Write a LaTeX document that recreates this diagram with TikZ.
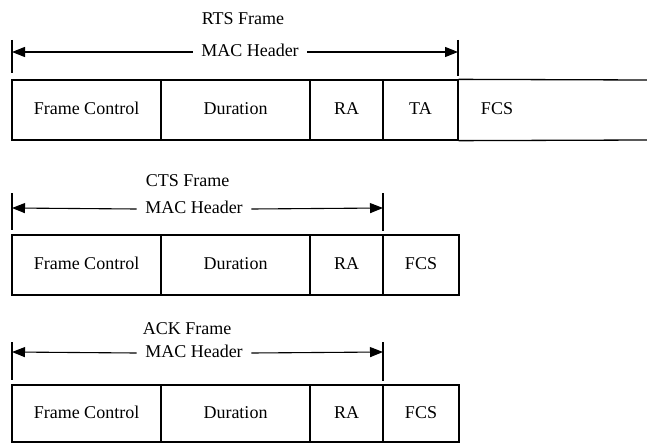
\documentclass[tikz,border=0pt]{standalone}
\usepackage{fontspec}
\setmainfont{Liberation Serif}
\usetikzlibrary{arrows.meta}
\begin{document}
\begin{tikzpicture}[x=1pt,y=-1pt,
  line width=1.3pt,
  txt/.style={font=\fontsize{18}{21}\selectfont, text height=12.5pt, text depth=3.5pt},
  cell/.style={txt, draw, rectangle, minimum height=60pt, inner sep=0pt},
  lbl/.style={txt, inner sep=0pt},
  hdr/.style={txt, inner xsep=8pt, inner ysep=0pt},
  arr/.style={-{Triangle[length=13pt,width=10pt]}, line width=1.1pt},
  tick/.style={line width=1.1pt}]
\useasboundingbox (0,0) rectangle (647,444);

% ---------- RTS ----------
\node[lbl] (rtsT) at (243,20) {RTS Frame};
\node[hdr] (rtsH) at (250,52) {MAC Header};
\coordinate (rtsL1) at (12,40); \coordinate (rtsL2) at (12,73);
\coordinate (rtsR1) at (458,40); \coordinate (rtsR2) at (458,76);
\draw[tick] (rtsL1) -- (rtsL2);
\draw[tick] (rtsR1) -- (rtsR2);
\coordinate (rtsLa) at (12,52); \coordinate (rtsRa) at (458,52);
\draw[arr] (rtsH.west) -- (rtsLa);
\draw[arr] (rtsH.east) -- (rtsRa);
\node[cell, minimum width=149pt] (rFC) at (86.5,110) {Frame Control};
\node[cell, minimum width=149pt] (rDu) at (235.5,110) {Duration};
\node[cell, minimum width=73pt] (rRA) at (346.5,110) {RA};
\node[cell, minimum width=75pt] (rTA) at (420.5,110) {TA};
\node[lbl] (rFCS) at (497,110) {FCS};
\coordinate (rE1) at (647,80); \coordinate (rE2) at (647,140);
\draw (rTA.north east) -- (rE1);
\draw (rTA.south east) -- (rE2);

% ---------- CTS ----------
\node[lbl] (ctsT) at (187.5,182) {CTS Frame};
\node[hdr] (ctsH) at (194,209) {MAC Header};
\coordinate (ctsL1) at (12,193); \coordinate (ctsL2) at (12,230);
\coordinate (ctsR1) at (383,193); \coordinate (ctsR2) at (383,231);
\draw[tick] (ctsL1) -- (ctsL2);
\draw[tick] (ctsR1) -- (ctsR2);
\coordinate (ctsLa) at (12,208); \coordinate (ctsRa) at (383,208);
\draw[arr] (ctsH.west) -- (ctsLa);
\draw[arr] (ctsH.east) -- (ctsRa);
\node[cell, minimum width=149pt] (cFC) at (86.5,265) {Frame Control};
\node[cell, minimum width=149pt] (cDu) at (235.5,265) {Duration};
\node[cell, minimum width=73pt] (cRA) at (346.5,265) {RA};
\node[cell, minimum width=76pt] (cFCS) at (421,265) {FCS};

% ---------- ACK ----------
\node[lbl] (ackT) at (187,330) {ACK Frame};
\node[hdr] (ackH) at (194,353) {MAC Header};
\coordinate (ackL1) at (12,342); \coordinate (ackL2) at (12,380);
\coordinate (ackR1) at (383,342); \coordinate (ackR2) at (383,381);
\draw[tick] (ackL1) -- (ackL2);
\draw[tick] (ackR1) -- (ackR2);
\coordinate (ackLa) at (12,352); \coordinate (ackRa) at (383,352);
\draw[arr] (ackH.west) -- (ackLa);
\draw[arr] (ackH.east) -- (ackRa);
\node[cell, minimum width=149pt, minimum height=57pt] (aFC) at (86.5,413.5) {Frame Control};
\node[cell, minimum width=149pt, minimum height=57pt] (aDu) at (235.5,413.5) {Duration};
\node[cell, minimum width=73pt, minimum height=57pt] (aRA) at (346.5,413.5) {RA};
\node[cell, minimum width=76pt, minimum height=57pt] (aFCS) at (421,413.5) {FCS};
\end{tikzpicture}
\end{document}
